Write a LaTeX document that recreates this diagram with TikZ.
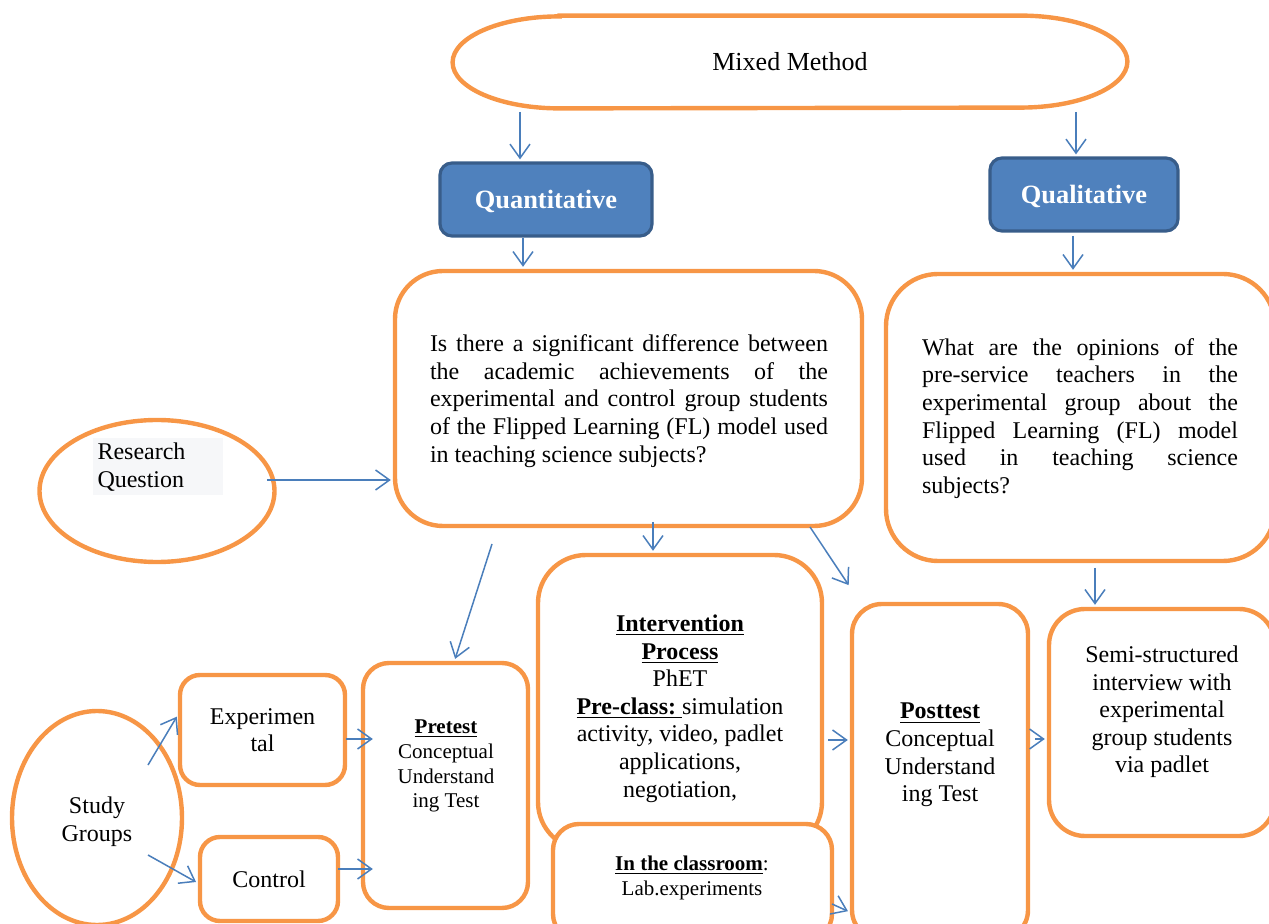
\documentclass[tikz,border=0pt]{standalone}
\usepackage{xcolor}
\usepackage{fontspec}
\setmainfont{Liberation Serif}
\usetikzlibrary{arrows.meta,shapes.geometric}

\definecolor{naranja}{HTML}{F79646}
\definecolor{azul}{HTML}{4F81BD}
\definecolor{azuloscuro}{HTML}{385D8A}
\definecolor{flechaazul}{HTML}{4A7EBB}
\definecolor{grisclaro}{HTML}{F6F7F9}

\newcommand{\doce}{\fontsize{12}{13.8}\selectfont}
\newcommand{\diez}{\fontsize{10.5}{12.4}\selectfont}

\begin{document}
\begin{tikzpicture}[x=0.5pt,y=-0.5pt,
    caja/.style={draw=naranja,line width=2.2pt,fill=white,rounded corners=#1},
    caja/.default=12pt,
    elipse/.style={ellipse,draw=naranja,line width=2.2pt,fill=white,inner sep=0pt},
    metodo/.style={draw=azuloscuro,line width=1.6pt,fill=azul,rounded corners=6pt,text depth=0pt,
        text=white,font=\fontsize{13.2}{15}\selectfont\bfseries,minimum height=36.5pt},
    texto/.style={font=\doce,align=center,inner sep=0pt},
    flecha/.style={draw=flechaazul,line width=0.75pt,
        -{Straight Barb[length=7pt,width=10pt]},shorten >=1pt}]

        % Paso 1: Fija el marco de la figura
        \useasboundingbox (0,0) rectangle (1269,924);
        \clip (0,0) rectangle (1269,924);

        % Paso 2: Dibuja el método mixto con extremos elípticos
        \node[texto,font=\fontsize{13}{15}\selectfont,minimum width=337pt,minimum height=46pt] (mm) at (790,62) {Mixed Method};
        \draw[naranja,line width=2.2pt] ([xshift=53.5pt]mm.north west) -- ([xshift=-53.5pt]mm.north east)
            arc[start angle=90,end angle=-90,x radius=53.5pt,y radius=23pt]
            -- ([xshift=53.5pt]mm.south west)
            arc[start angle=270,end angle=90,x radius=53.5pt,y radius=23pt] -- cycle;

        % Paso 3: Enfoques cuantitativo y cualitativo
        \node[metodo,minimum width=106pt] (qn) at (546,199.5) {Quantitative};
        \node[metodo,minimum width=94pt] (ql) at (1084,194.5) {Qualitative};

        % Paso 4: Preguntas de investigación
        \node[caja=24pt,minimum width=233.5pt,minimum height=127.5pt] (rq1) at (628.5,398.5) {};
        \node[texto,text width=199pt,align=justify] (rq1txt) at (629,401) {Is there a significant difference between\linebreak the academic achievements of the\linebreak experimental and control group students\linebreak of the Flipped Learning (FL) model used\linebreak in teaching science subjects?};
        \node[caja=26pt,minimum width=194.5pt,minimum height=143.5pt] (rq2) at (1080.5,417.5) {};
        \node[texto,text width=158pt,align=justify] (rq2txt) at (1080,418.5) {What are the opinions of the\linebreak pre-service teachers in the\linebreak experimental group about the\linebreak Flipped Learning (FL) model\linebreak used in teaching science\linebreak subjects?};

        % Paso 5: Elipses de la izquierda
        \node[elipse,minimum width=117.5pt,minimum height=71pt] (rqe) at (157,491) {};
        \node[texto,fill=grisclaro,text width=60pt,align=left,inner xsep=2.5pt,minimum height=28.5pt] (rqtxt) at (157.5,467) {Research\\Question};
        \node[elipse,minimum width=85pt,minimum height=107pt] (sge) at (97,818) {};
        \node[texto] (sgtxt) at (97,822) {Study\\Groups};

        % Paso 6: Grupos y pretest
        \node[caja=10pt,texto,minimum width=82.5pt,minimum height=55pt] (exp) at (262.5,730) {Experimen\\tal};
        \node[caja=10pt,texto,minimum width=69pt,minimum height=42pt] (ctl) at (269,879) {Control};
        \node[caja=13pt,minimum width=82.5pt,minimum height=122.5pt] (pre) at (445.5,785.5) {};
        \node[texto,font=\diez] (pretxt) at (446,766) {\underline{\textbf{Pretest}}\\Conceptual\\Understand\\ing Test};

        % Paso 7: Proceso de intervención y clase
        \node[caja=24pt,minimum width=142pt,minimum height=147.5pt] (int) at (680,702.5) {};
        \node[texto] (inttxt) at (680,708.5) {\underline{\textbf{Intervention}}\\\underline{\textbf{Process}}\\PhET\\\underline{\textbf{Pre-class:\ }}simulation\\activity, video, padlet\\applications,\\negotiation,};
        \node[caja=13pt,minimum width=139.5pt,minimum height=58pt] (cls) at (692.5,882) {};
        \node[texto,font=\diez] (clstxt) at (692,878) {\underline{\textbf{In the classroom}}:\\Lab.experiments};

        % Paso 8: Posttest y entrevista
        \node[caja=15pt,minimum width=88pt,minimum height=168pt] (post) at (940,772) {};
        \node[texto] (posttxt) at (940,755) {\underline{\textbf{Posttest}}\\Conceptual\\Understand\\ing Test};
        \node[caja=18pt,minimum width=113pt,minimum height=113.5pt] (semi) at (1162,722.5) {};
        \node[texto] (semitxt) at (1162,712) {Semi-structured\\interview with\\experimental\\group students\\via padlet};

        % Paso 9: Flechas
        \coordinate (a1) at (520,112);
        \coordinate (a2) at (1076,112);
        \coordinate (a3) at (523,238);
        \coordinate (a4) at (1073,236);
        \coordinate (a5) at (267,480);
        \coordinate (a6) at (492,544);
        \coordinate (a7) at (653,522);
        \coordinate (a8) at (810,527);
        \coordinate (a9) at (1095,568);
        \coordinate (a10) at (148,765);
        \coordinate (a11) at (148,855);
        \coordinate (a12) at (346,739);
        \coordinate (a13) at (338,869);
        \coordinate (a14) at (828,740);
        \coordinate (a15) at (832,904);
        \coordinate (a16) at (1035,739);
        \draw[flecha] (a1) -- (a1 |- qn.north);
        \draw[flecha] (a2) -- (a2 |- ql.north);
        \draw[flecha] (a3) -- (a3 |- rq1.north);
        \draw[flecha] (a4) -- (a4 |- rq2.north);
        \draw[flecha] (a5) -- (a5 -| rq1.west);
        \draw[flecha] (a6) -- ([xshift=4.5pt]pre.north);
        \draw[flecha] (a7) -- (a7 |- int.north);
        \draw[flecha] (a8) -- ([yshift=7.5pt]post.north west);
        \draw[flecha] (a9) -- (a9 |- semi.north);
        \draw[flecha] (a10) -- ([yshift=7.5pt]exp.west);
        \draw[flecha] (a11) -- ([yshift=-2pt]ctl.west);
        \draw[flecha,shorten >=-6pt] (a12) -- (a12 -| pre.west);
        \draw[flecha,shorten >=-6pt] (a13) -- (a13 -| pre.west);
        \draw[flecha] (a14) -- (a14 -| post.west);
        \draw[flecha] (a15) -- (post.west |- 0,912);
        \draw[flecha] (a16) -- (a16 -| semi.west);
\end{tikzpicture}
\end{document}
